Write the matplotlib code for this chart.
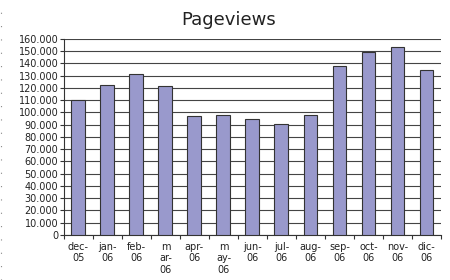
import numpy as np
import matplotlib.pyplot as plt
from matplotlib.ticker import FuncFormatter, MultipleLocator, FixedLocator
from matplotlib.lines import Line2D

months = ["dec-\n05", "jan-\n06", "feb-\n06", "m\nar-\n06", "apr-\n06", "m\nay-\n06",
          "jun-\n06", "jul-\n06", "aug-\n06", "sep-\n06", "oct-\n06", "nov-\n06", "dic-\n06"]
pageviews = [110500, 122500, 131500, 121500, 97000, 97500, 95000,
             90500, 98000, 138000, 149000, 153000, 135000]

fig = plt.figure(figsize=(4.5, 2.8), dpi=100)
ax = fig.add_axes([0.142, 0.161, 0.838, 0.7])

x = np.arange(len(months))
ax.bar(x, pageviews, width=0.48, color="#9999cc", edgecolor="#333333", linewidth=0.8, zorder=3)

ax.set_xlim(-0.5, len(months) - 0.5)
ax.set_ylim(0, 160000)
ax.yaxis.set_major_locator(MultipleLocator(10000))
ax.yaxis.set_major_formatter(FuncFormatter(lambda v, p: f"{int(v):,}".replace(",", ".")))
ax.grid(axis="y", color="#444444", linewidth=0.8, zorder=0)

ax.set_xticks(x)
ax.set_xticklabels(months, fontsize=7, linespacing=1.2, color="#222222")
ax.xaxis.set_minor_locator(FixedLocator(np.arange(-0.5, len(months), 1)))
ax.tick_params(axis="x", which="major", length=0, pad=5)
ax.tick_params(axis="x", which="minor", length=3, width=0.8, color="#333333")
ax.tick_params(axis="y", labelsize=7, labelcolor="#222222", length=3, width=0.8, color="#333333", pad=1)

for s in ["top", "right"]:
    ax.spines[s].set_visible(False)
ax.spines["left"].set_color("#333333")
ax.spines["bottom"].set_color("#333333")
ax.spines["left"].set_linewidth(0.8)
ax.spines["bottom"].set_linewidth(0.8)

fig.text(0.507, 0.93, "Pageviews", ha="center", va="center", fontsize=13, color="#222222")

fig.add_artist(Line2D([0.003, 0.003], [0, 1], transform=fig.transFigure,
                      color="#888888", linewidth=0.8, linestyle=(0, (1, 11))))

fig.savefig("out.png", dpi=100)
